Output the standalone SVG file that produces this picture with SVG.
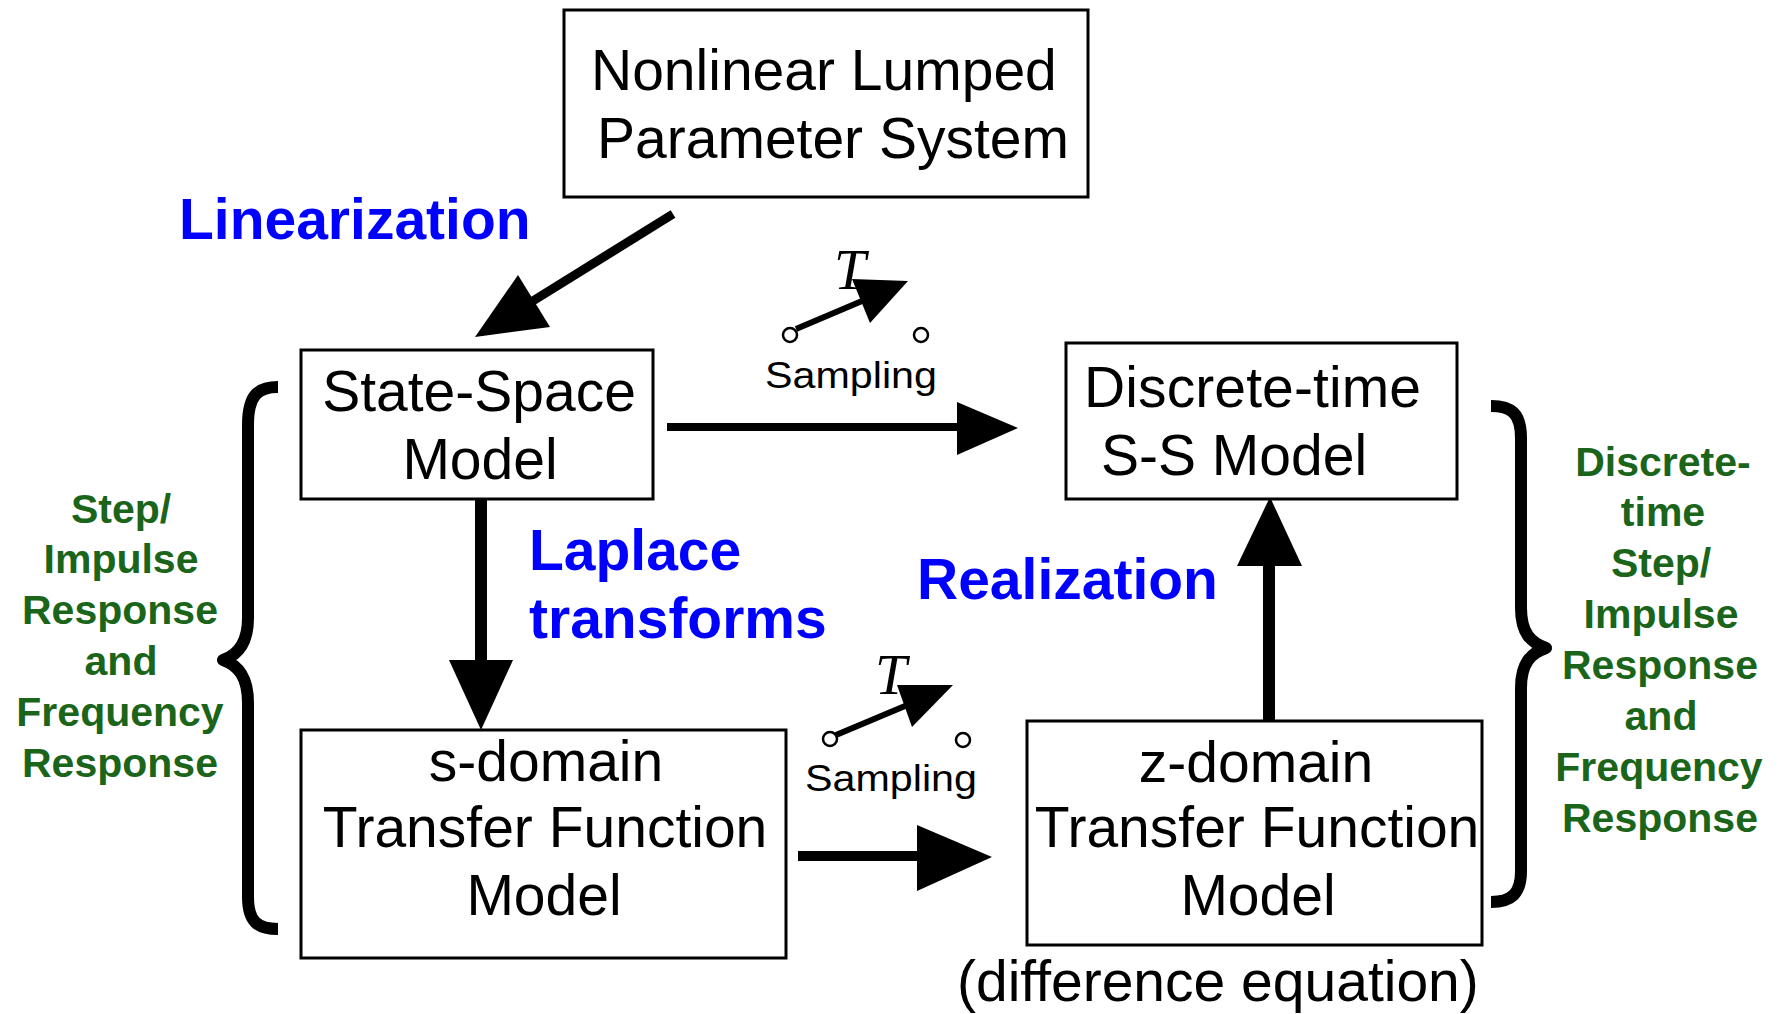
<svg xmlns="http://www.w3.org/2000/svg" width="1788" height="1014" viewBox="0 0 1788 1014">
  <style>
    .box { fill: #ffffff; stroke: #000000; stroke-width: 3; }
    .lbl { font-family: "Liberation Sans", Arial, sans-serif; font-size: 57px; fill: #000000; }
    .mid { text-anchor: middle; }
    .blue { font-family: "Liberation Sans", Arial, sans-serif; font-size: 57px; font-weight: bold; fill: #0000ff; }
    .green { font-family: "Liberation Sans", Arial, sans-serif; font-size: 41px; font-weight: bold; fill: #1b651b; text-anchor: middle; }
    .samp { font-family: "Liberation Sans", Arial, sans-serif; font-size: 36px; fill: #000000; }
    .tee { font-family: "Liberation Serif", "Times New Roman", serif; font-style: italic; font-size: 57px; fill: #000000; }
    .shaft { stroke: #000000; fill: none; }
    .head { fill: #000000; stroke: none; }
    .brace { fill: none; stroke: #000000; stroke-width: 12; stroke-linecap: butt; stroke-linejoin: round; }
    .pin { fill: #ffffff; stroke: #000000; stroke-width: 2.5; }
  </style>

  <rect x="0" y="0" width="1788" height="1014" fill="#ffffff"/>

  <!-- connectors -->
  <g id="connectors">
    <!-- linearization -->
    <line class="shaft" x1="673" y1="214" x2="528" y2="304" stroke-width="9"/>
    <polygon class="head" points="475,337 518,275 550,327"/>
    <!-- state-space to discrete-time (sampling) -->
    <line class="shaft" x1="667" y1="427" x2="962" y2="427" stroke-width="8"/>
    <polygon class="head" points="957,402 1018,428 957,455"/>
    <!-- Laplace transforms -->
    <line class="shaft" x1="481" y1="500" x2="481" y2="665" stroke-width="12"/>
    <polygon class="head" points="449,660 513,660 481,730"/>
    <!-- s-domain to z-domain (sampling) -->
    <line class="shaft" x1="798" y1="856" x2="922" y2="856" stroke-width="10"/>
    <polygon class="head" points="917,825 992,857 917,891"/>
    <!-- realization -->
    <line class="shaft" x1="1269" y1="720" x2="1269" y2="562" stroke-width="12"/>
    <polygon class="head" points="1237,566 1302,566 1270,497"/>
  </g>

  <!-- sampling switch, upper -->
  <g id="switch-upper">
    <line class="shaft" x1="796" y1="329" x2="862" y2="301" stroke-width="6"/>
    <polygon class="head" points="852,279 908,281 870,323"/>
    <circle class="pin" cx="790" cy="335" r="7"/>
    <circle class="pin" cx="921" cy="335" r="7"/>
    <text class="tee" x="834" y="289">T</text>
    <text class="samp" x="765" y="388" textLength="172" lengthAdjust="spacingAndGlyphs">Sampling</text>
  </g>

  <!-- sampling switch, lower -->
  <g id="switch-lower">
    <line class="shaft" x1="836" y1="735" x2="905" y2="706" stroke-width="6"/>
    <polygon class="head" points="897,685 953,685 912,727"/>
    <circle class="pin" cx="830" cy="739" r="7"/>
    <circle class="pin" cx="963" cy="740" r="7"/>
    <text class="tee" x="875" y="694">T</text>
    <text class="samp" x="805" y="791" textLength="172" lengthAdjust="spacingAndGlyphs">Sampling</text>
  </g>

  <!-- nodes -->
  <g id="nonlinear">
    <rect class="box" x="564" y="10" width="524" height="187"/>
    <text class="lbl" x="591" y="90">Nonlinear Lumped</text>
    <text class="lbl" x="597" y="158">Parameter System</text>
  </g>

  <g id="state-space">
    <rect class="box" x="301" y="350" width="352" height="149"/>
    <text class="lbl mid" x="479" y="411">State-Space</text>
    <text class="lbl mid" x="480" y="479">Model</text>
  </g>

  <g id="discrete-ss">
    <rect class="box" x="1066" y="343" width="391" height="156"/>
    <text class="lbl" x="1084" y="407" textLength="337">Discrete-time</text>
    <text class="lbl" x="1101" y="475">S-S Model</text>
  </g>

  <g id="s-domain">
    <rect class="box" x="301" y="730" width="485" height="228"/>
    <text class="lbl mid" x="546" y="781">s-domain</text>
    <text class="lbl mid" x="545" y="847">Transfer Function</text>
    <text class="lbl mid" x="544" y="915">Model</text>
  </g>

  <g id="z-domain">
    <rect class="box" x="1027" y="721" width="455" height="224"/>
    <text class="lbl mid" x="1256" y="782">z-domain</text>
    <text class="lbl mid" x="1257" y="847">Transfer Function</text>
    <text class="lbl mid" x="1258" y="915">Model</text>
    <text class="lbl" x="957" y="1001">(difference equation)</text>
  </g>

  <!-- process labels -->
  <g id="process-labels">
    <text class="blue" x="179" y="239">Linearization</text>
    <text class="blue" x="529" y="570">Laplace</text>
    <text class="blue" x="529" y="638">transforms</text>
    <text class="blue" x="917" y="599">Realization</text>
  </g>

  <!-- continuous-time responses -->
  <g id="brace-left">
    <path class="brace" d="M278,387 C258,387 248,395 248,425 L248,618 C248,643 238,655 223,660 C238,665 248,677 248,703 L248,897 C248,922 258,929 278,929"/>
    <text class="green" x="121" y="523">Step/</text>
    <text class="green" x="121" y="573">Impulse</text>
    <text class="green" x="120" y="624">Response</text>
    <text class="green" x="121" y="675">and</text>
    <text class="green" x="120" y="726">Frequency</text>
    <text class="green" x="120" y="777">Response</text>
  </g>

  <!-- discrete-time responses -->
  <g id="brace-right">
    <path class="brace" d="M1491,406 C1511,406 1521,413 1521,438 L1521,608 C1521,633 1531,643 1546,648 C1531,653 1521,663 1521,688 L1521,871 C1521,894 1511,902 1491,902"/>
    <text class="green" x="1663" y="476">Discrete-</text>
    <text class="green" x="1663" y="526">time</text>
    <text class="green" x="1661" y="577">Step/</text>
    <text class="green" x="1661" y="628">Impulse</text>
    <text class="green" x="1660" y="679">Response</text>
    <text class="green" x="1661" y="730">and</text>
    <text class="green" x="1659" y="781">Frequency</text>
    <text class="green" x="1660" y="832">Response</text>
  </g>
</svg>
